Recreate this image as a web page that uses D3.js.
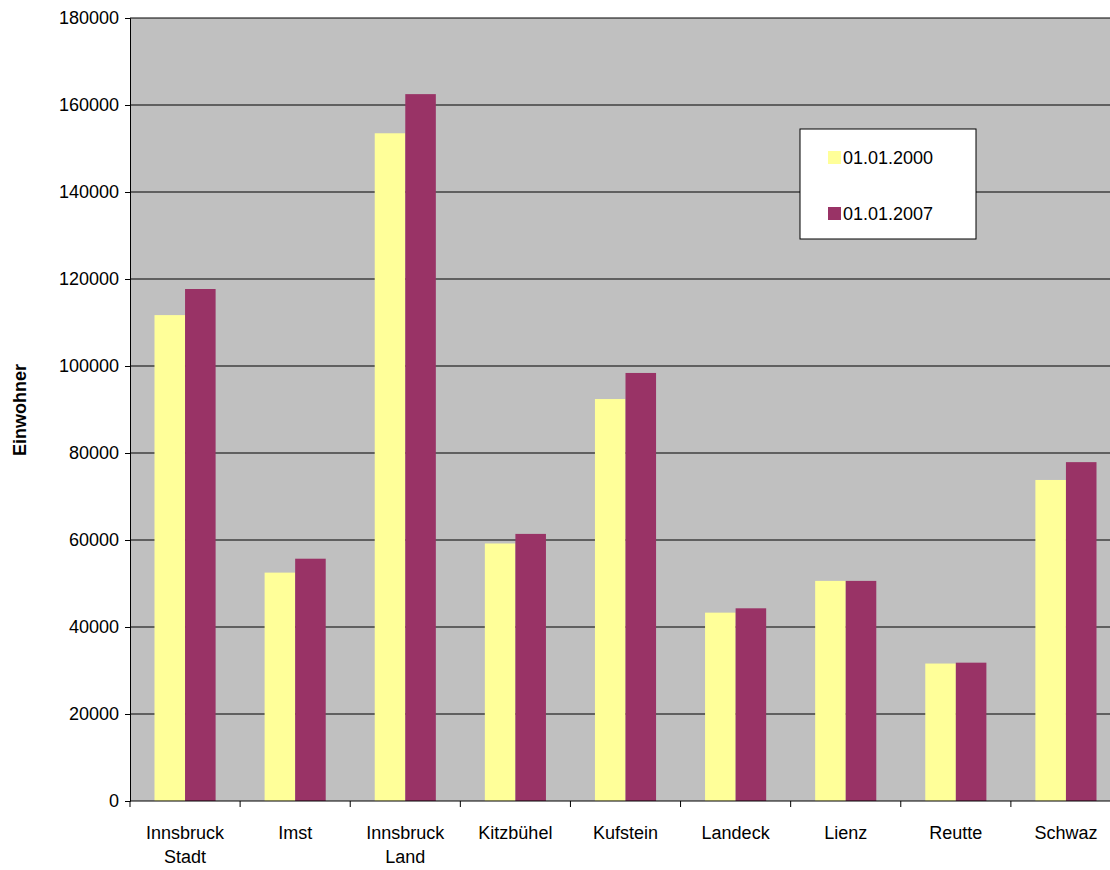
<!DOCTYPE html><html><head><meta charset="utf-8"><script src="https://d3js.org/d3.v7.min.js"></script>
<style>body{margin:0;background:#fff}text{font-family:Arial,"Liberation Sans",sans-serif}</style></head><body>
<svg id="c" width="1110" height="870"></svg>
<script>
const categories=[["Innsbruck","Stadt"],["Imst"],["Innsbruck","Land"],["Kitzbühel"],["Kufstein"],["Landeck"],["Lienz"],["Reutte"],["Schwaz"]];
const series2000=[111700,52500,153500,59200,92400,43300,50600,31600,73800];
const series2007=[117700,55700,162500,61400,98400,44300,50600,31800,77900];
const seriesNames=["01.01.2000","01.01.2007"];
const colors=["#ffff99","#993366"];
const yTicks=[0,20000,40000,60000,80000,100000,120000,140000,160000,180000];
const svg=d3.select("#c");
const L=130,R=1110,RB=1121,T=18,B=801;
const x=d3.scaleBand().domain(d3.range(categories.length)).range([L,RB]);
const y=d3.scaleLinear().domain([0,180000]).range([B,T]);
svg.append("rect").attr("x",L).attr("y",T).attr("width",R-L).attr("height",B-T).attr("fill","#c0c0c0");
svg.append("g").selectAll("line").data(yTicks.slice(1)).join("line").attr("x1",L).attr("x2",R).attr("y1",d=>y(d)).attr("y2",d=>y(d)).attr("stroke","#000").attr("stroke-width",1);
const pad=24.5,bw=(x.bandwidth()-2*pad)/2;
[series2000,series2007].forEach((s,si)=>{
svg.append("g").selectAll("rect").data(s).join("rect").attr("x",(d,i)=>x(i)+pad+si*bw).attr("width",bw).attr("y",d=>y(d)).attr("height",d=>B-y(d)).attr("fill",colors[si]);
});
const ya=svg.append("g").attr("transform",`translate(${L},0)`).call(d3.axisLeft(y).tickValues(yTicks).tickSize(5).tickPadding(6).tickFormat(d3.format("d")));
ya.selectAll("text").attr("font-size",18).attr("fill","#000");
const xa=svg.append("g").attr("transform",`translate(0,${B})`);
xa.append("line").attr("x1",L).attr("x2",R).attr("stroke","#000");
xa.selectAll(".t").data(d3.range(categories.length)).join("line").attr("x1",i=>L+i*x.step()).attr("x2",i=>L+i*x.step()).attr("y2",6).attr("stroke","#000");
categories.forEach((c,i)=>{const t=xa.append("text").attr("text-anchor","middle").attr("font-size",18).attr("x",x(i)+x.bandwidth()/2).attr("y",38);
c.forEach((l,j)=>t.append("tspan").attr("x",x(i)+x.bandwidth()/2).attr("dy",j?24:0).text(l));});
svg.append("text").attr("transform","translate(26,410) rotate(-90)").attr("text-anchor","middle").attr("font-size",18).attr("font-weight","bold").text("Einwohner");
const lg=svg.append("g");
lg.append("rect").attr("x",800).attr("y",129).attr("width",176).attr("height",110).attr("fill","#fff").attr("stroke","#000");
seriesNames.forEach((n,i)=>{lg.append("rect").attr("x",828).attr("y",151+i*56).attr("width",13).attr("height",13).attr("fill",colors[i]);
lg.append("text").attr("x",843).attr("y",164+i*56).attr("font-size",18).text(n);});
</script></body></html>
